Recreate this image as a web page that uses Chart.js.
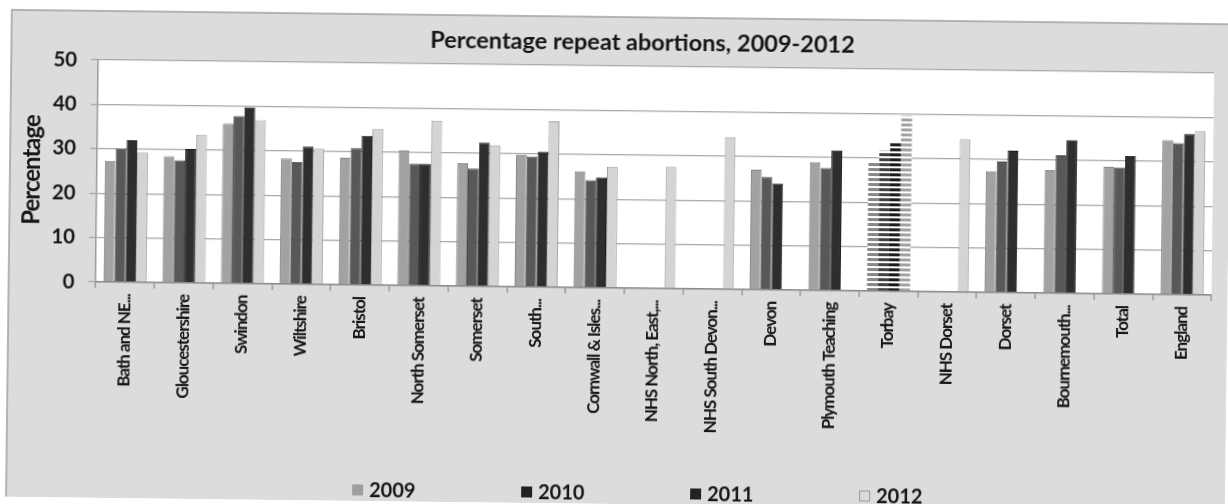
<!DOCTYPE html>
<html>
<head>
<meta charset="utf-8">
<script src="https://cdn.jsdelivr.net/npm/chart.js@4.4.1/dist/chart.umd.min.js"></script>
<style>
  html, body { margin: 0; padding: 0; background: #ffffff; overflow: hidden; }
  #wrap { width: 1228px; height: 504px; transform: rotate(0.68deg); transform-origin: 614px 252px; }
  canvas { display: block; }
</style>
</head>
<body>
<div id="wrap"><canvas id="chart" width="1228" height="504"></canvas></div>
<script>
// Areas (x-axis categories)
const categories = [
  'Bath and NE...', 'Gloucestershire', 'Swindon', 'Wiltshire', 'Bristol',
  'North Somerset', 'Somerset', 'South...', 'Cornwall & Isles...',
  'NHS North, East,...', 'NHS South Devon...', 'Devon', 'Plymouth Teaching',
  'Torbay', 'NHS Dorset', 'Dorset', 'Bournemouth...', 'Total', 'England'
];
const years = ['2009', '2010', '2011', '2012'];

// Percentage of abortions that were repeat abortions, by year
const pct2009 = [27.3, 28.5, 36.0, 28.3, 28.6, 30.4, 27.7, 29.8, 26.2, null, null, 27.0, 28.9, 29.2, null, 27.3, 27.7, 28.6, 34.8];
const pct2010 = [30.0, 27.6, 37.7, 27.5, 30.8, 27.4, 26.5, 29.4, 24.2, null, null, 25.4, 27.6, 31.6, null, 29.5, 31.1, 28.5, 34.1];
const pct2011 = [32.0, 30.2, 39.7, 31.0, 33.6, 27.4, 32.4, 30.5, 24.9, null, null, 24.0, 31.6, 33.5, null, 32.0, 34.5, 31.1, 36.2];
const pct2012 = [29.2, 33.4, 36.8, 30.6, 35.2, 37.2, 31.8, 37.4, 27.3, 27.4, 34.3, null, null, 39.5, 34.4, null, null, null, 36.9];

// y-axis tick values
const yTicks = [0, 10, 20, 30, 40, 50];

const seriesValues = [pct2009, pct2010, pct2011, pct2012];
const fills   = ['#a2a2a2', '#585858', '#2e2e2e', '#d4d4d4'];
const edges   = ['#888888', '#414141', '#1c1c1c', '#a2a2a2'];
const keyFill = ['#9e9e9e', '#222222', '#222222', '#dadada'];

const FONT = 'Lato, "Open Sans", "DejaVu Sans", sans-serif';
const TEXT = '#161616';

// Torbay's bars print as broken horizontal strokes
function stripePattern(color) {
  const c = document.createElement('canvas');
  c.width = 6; c.height = 5;
  const g = c.getContext('2d');
  g.fillStyle = '#ffffff';
  g.fillRect(0, 0, 6, 5);
  g.fillStyle = color;
  g.fillRect(0, 0, 6, 3);
  return g.createPattern(c, 'repeat');
}
const dashedIndex = categories.indexOf('Torbay');

const datasets = years.map((y, i) => {
  const pat = stripePattern(edges[i]);
  return {
    label: y,
    data: seriesValues[i],
    backgroundColor: ctx => ctx.dataIndex === dashedIndex ? pat : fills[i],
    borderColor: edges[i],
    borderWidth: ctx => ctx.dataIndex === dashedIndex ? 0 : 1,
    categoryPercentage: 0.733,
    barPercentage: 1.0
  };
});

// Grey chart backdrop, white plot area; tighter lettering for the category labels
const backdrop = {
  id: 'backdrop',
  beforeDraw(chart) {
    const { ctx, chartArea: a } = chart;
    ctx.save();
    ctx.fillStyle = '#ffffff';
    ctx.fillRect(0, 0, chart.width, chart.height);
    ctx.fillStyle = '#dcdcdc';
    ctx.fillRect(9, 17, chart.width + 20, chart.height);
    ctx.strokeStyle = '#a0a0a0';
    ctx.lineWidth = 1.5;
    ctx.strokeRect(9, 17, chart.width + 20, chart.height);
    ctx.fillStyle = '#ffffff';
    ctx.fillRect(a.left, a.top, a.right - a.left, a.bottom - a.top);
    ctx.restore();
    ctx.letterSpacing = '-1px';
  },
  beforeDatasetsDraw(chart) {
    chart.ctx.letterSpacing = '0px';
  }
};

// Title above the plot and the year key along the bottom
const headerAndKey = {
  id: 'headerAndKey',
  afterDraw(chart) {
    const { ctx } = chart;
    ctx.save();
    ctx.letterSpacing = '0px';
    ctx.fillStyle = TEXT;
    ctx.textAlign = 'center';
    ctx.textBaseline = 'middle';
    ctx.font = 'bold 23.5px ' + FONT;
    ctx.fillText('Percentage repeat abortions, 2009-2012', 640, 42);

    ctx.font = 'bold 20px ' + FONT;
    ctx.textAlign = 'left';
    years.forEach((y, i) => {
      const x = 355 + i * 169;
      const yc = 493;
      ctx.fillStyle = keyFill[i];
      ctx.fillRect(x, yc - 5.5, 11, 11);
      if (i === 3) {
        ctx.strokeStyle = '#9a9a9a';
        ctx.lineWidth = 1;
        ctx.strokeRect(x + 0.5, yc - 5, 10, 10);
      }
      ctx.fillStyle = TEXT;
      ctx.fillText(y, x + 17, yc + 1);
    });
    ctx.restore();
  }
};

new Chart(document.getElementById('chart'), {
  type: 'bar',
  data: { labels: categories, datasets },
  plugins: [backdrop, headerAndKey],
  options: {
    responsive: false,
    animation: false,
    devicePixelRatio: 1,
    layout: { padding: { left: 0, right: 16, top: 66, bottom: 0 } },
    plugins: {
      legend: { display: false },
      title: { display: false },
      tooltip: { enabled: false }
    },
    scales: {
      x: {
        grid: {
          offset: true,
          drawOnChartArea: false,
          drawTicks: true,
          tickLength: 6,
          color: '#8a8a8a',
          lineWidth: 1.2
        },
        border: { color: '#8a8a8a', width: 1.5 },
        ticks: {
          autoSkip: false,
          maxRotation: 90,
          minRotation: 90,
          padding: 6,
          color: TEXT,
          font: { family: FONT, size: 17, weight: 'bold' }
        },
        afterFit(scale) { scale.height = 216; }
      },
      y: {
        min: 0,
        max: 50,
        afterBuildTicks(scale) { scale.ticks = yTicks.map(v => ({ value: v })); },
        grid: {
          color: '#a8a8a8',
          lineWidth: 1.3,
          tickLength: 7
        },
        border: { color: '#999999', width: 1.5 },
        ticks: {
          z: 1,
          padding: 14,
          color: TEXT,
          font: { family: FONT, size: 20.5, weight: 'bold' }
        },
        title: {
          display: true,
          text: 'Percentage',
          color: TEXT,
          font: { family: FONT, size: 24, weight: 'bold' },
          padding: { top: 17, bottom: 0 }
        },
        afterFit(scale) { scale.width = 96; }
      }
    }
  }
});
</script>
</body>
</html>
